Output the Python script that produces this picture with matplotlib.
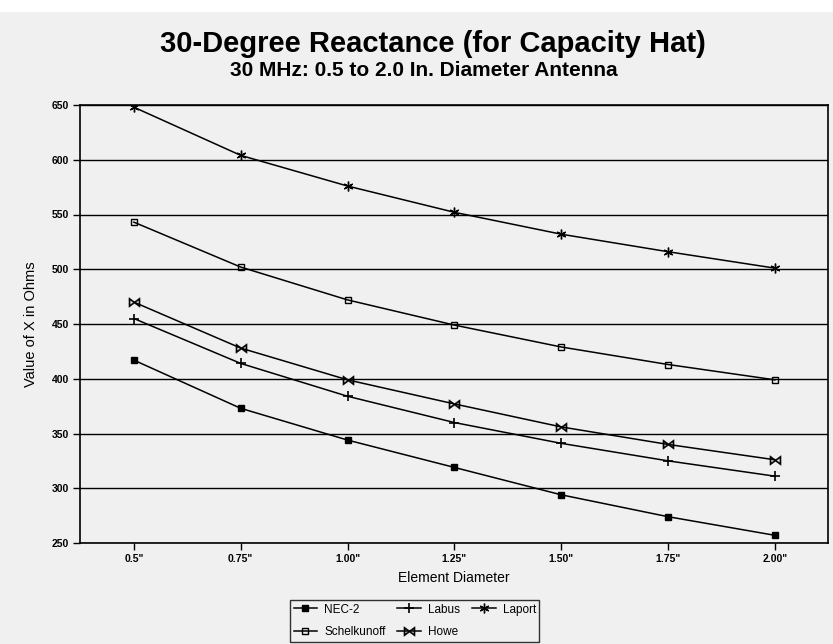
import matplotlib
matplotlib.use("Agg")
import matplotlib.pyplot as plt
import matplotlib.patches as mpatches

plt.rcParams['font.family'] = ['Liberation Sans', 'DejaVu Sans']

# Element diameter (inches) and reactance values
diameters = [0.5, 0.75, 1.00, 1.25, 1.50, 1.75, 2.00]
x_labels = ['0.5"', '0.75"', '1.00"', '1.25"', '1.50"', '1.75"', '2.00"']
nec2 = [417, 373, 344, 319, 294, 274, 257]
schelkunoff = [543, 502, 472, 449, 429, 413, 399]
labus = [455, 414, 384, 360, 341, 325, 311]
howe = [470, 428, 399, 377, 356, 340, 326]
laport = [648, 604, 576, 552, 532, 516, 501]
y_ticks = [250, 300, 350, 400, 450, 500, 550, 600, 650]

bg = '#f0f0f0'
fig = plt.figure(figsize=(8.33, 6.44), dpi=100, facecolor=bg)
# white strip along the top edge of the scan
fig.patches.append(mpatches.Rectangle((0, 1-12/644), 1, 12/644, transform=fig.transFigure,
                                      facecolor='white', edgecolor='none', zorder=0))

ax = fig.add_axes([80/833, 1-543/644, 748/833, 438/644])
ax.set_facecolor(bg)

for v in y_ticks:
    ax.axhline(v, color='black', lw=1.0, zorder=1)

kw = dict(color='black', lw=1.1, zorder=3)
ax.plot(diameters, nec2, marker='s', ms=5, mfc='black', mec='black', label='NEC-2', **kw)
ax.plot(diameters, schelkunoff, marker='s', ms=5, mfc='none', mec='black', label='Schelkunoff', **kw)
ax.plot(diameters, labus, marker='+', ms=7, mew=1.2, label='Labus', **kw)
ax.plot(diameters, howe, marker='$\\bowtie$', ms=8, mew=0.3, label='Howe', **kw)
ax.plot(diameters, laport, marker=(6, 2, 0), ms=7, mew=1.0, label='Laport', **kw)

ax.set_xlim(0.374, 2.124)
ax.set_ylim(250, 650)
ax.set_xticks(diameters)
ax.set_xticklabels(x_labels, fontsize=7.5, fontweight='bold')
ax.set_yticks(y_ticks)
ax.set_yticklabels([str(v) for v in y_ticks], fontsize=7.5, fontweight='bold')
ax.tick_params(direction='out', length=5, width=1, color='black', pad=3)
for s in ax.spines.values():
    s.set_color('black')
    s.set_linewidth(1.2)

ax.set_xlabel('Element Diameter', fontsize=10, labelpad=5)
ax.set_ylabel('Value of X in Ohms', fontsize=10.5, labelpad=10)

fig.text(433/833, 1-44/644, '30-Degree Reactance (for Capacity Hat)',
         ha='center', va='center', fontsize=21, fontweight='bold')
fig.text(424/833, 1-70/644, '30 MHz: 0.5 to 2.0 In. Diameter Antenna',
         ha='center', va='center', fontsize=15, fontweight='bold')

leg = fig.legend(loc='upper left', bbox_to_anchor=(290/833, 1-600/644), ncol=3,
                 fontsize=8.5, frameon=True, fancybox=False, edgecolor='black',
                 facecolor=bg, handlelength=2.0, handletextpad=0.6, columnspacing=1.0,
                 borderpad=0.3, borderaxespad=0, labelspacing=0.9)
leg.get_frame().set_linewidth(1.0)

fig.savefig('out.png', dpi=100, facecolor=bg)
